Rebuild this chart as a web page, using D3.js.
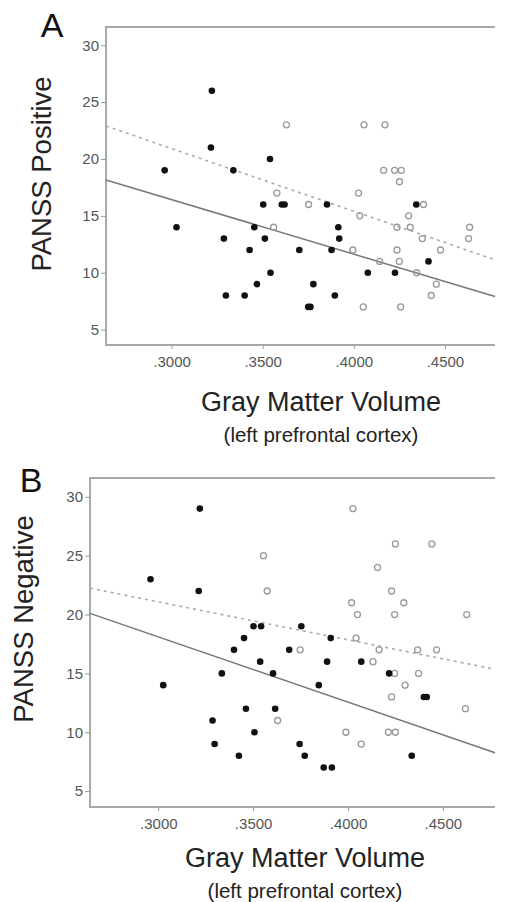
<!DOCTYPE html>
<html>
<head>
<meta charset="utf-8">
<script src="https://cdn.jsdelivr.net/npm/d3@7"></script>
<style>
  body { margin: 0; background: #fff; }
  svg { display: block; font-family: "Liberation Sans", Arial, sans-serif; }
</style>
</head>
<body>
<svg id="chart" width="511" height="902"></svg>
<script>
/**
 * Two scatter panels, gray matter volume vs PANSS scores
 */

// Shared axis ranges and tick labels
var xDomain = [0.264, 0.4775];
var yDomain = [3.65, 31.6];
var xTicks = [0.30, 0.35, 0.40, 0.45];
var yTicks = [5, 10, 15, 20, 25, 30];

// Panel A, filled group [volume, score]
var posFilled = [
  [0.3221, 26], [0.3216, 21], [0.3540, 20], [0.2962, 19], [0.3339, 19],
  [0.3503, 16], [0.3605, 16], [0.3620, 16], [0.3853, 16], [0.4343, 16],
  [0.3027, 14], [0.3454, 14], [0.3915, 14], [0.3287, 13], [0.3512, 13],
  [0.3920, 13], [0.3428, 12], [0.3701, 12], [0.3878, 12], [0.4410, 11],
  [0.3543, 10], [0.4077, 10], [0.4226, 10], [0.3468, 9], [0.3778, 9],
  [0.3298, 8], [0.3401, 8], [0.3896, 8], [0.3750, 7], [0.3762, 7]
];

// Panel A, open group
var posOpen = [
  [0.3630, 23], [0.4056, 23], [0.4171, 23], [0.4164, 19], [0.4224, 19],
  [0.4261, 19], [0.4251, 18], [0.3578, 17], [0.4026, 17], [0.3752, 16],
  [0.4383, 16], [0.4033, 15], [0.4301, 15], [0.3560, 14], [0.4237, 14],
  [0.4310, 14], [0.4636, 14], [0.4376, 13], [0.4630, 13], [0.3995, 12],
  [0.4237, 12], [0.4476, 12], [0.4142, 11], [0.4250, 11], [0.4345, 10],
  [0.4453, 9], [0.4425, 8], [0.4052, 7], [0.4257, 7]
];

// Panel A fit lines (ends at the plot edges)
var posFilledFit = [[0.264, 18.15], [0.4775, 7.92]];
var posOpenFit = [[0.264, 22.9], [0.4775, 11.14]];

// Panel B, filled group
var negFilled = [
  [0.3219, 29], [0.2959, 23], [0.3213, 22], [0.3502, 19], [0.3542, 19],
  [0.3754, 19], [0.3452, 18], [0.3909, 18], [0.3399, 17], [0.3690, 17],
  [0.3537, 16], [0.3890, 16], [0.4070, 16], [0.3335, 15], [0.3605, 15],
  [0.4217, 15], [0.3026, 14], [0.3846, 14], [0.4400, 13], [0.4415, 13],
  [0.3462, 12], [0.3616, 12], [0.3286, 11], [0.3507, 10], [0.3297, 9],
  [0.3745, 9], [0.3425, 8], [0.3772, 8], [0.4336, 8], [0.3872, 7],
  [0.3915, 7]
];

// Panel B, open group
var negOpen = [
  [0.4026, 29], [0.4250, 26], [0.4442, 26], [0.3555, 25], [0.4156, 24],
  [0.3574, 22], [0.4230, 22], [0.4019, 21], [0.4294, 21], [0.4050, 20],
  [0.4246, 20], [0.4626, 20], [0.4043, 18], [0.3748, 17], [0.4164, 17],
  [0.4367, 17], [0.4467, 17], [0.4132, 16], [0.4246, 15], [0.4372, 15],
  [0.4301, 14], [0.4230, 13], [0.4619, 12], [0.3629, 11], [0.3989, 10],
  [0.4213, 10], [0.4250, 10], [0.4070, 9]
];

// Panel B fit lines
var negFilledFit = [[0.264, 20.1], [0.4775, 8.26]];
var negOpenFit = [[0.264, 22.24], [0.4775, 15.35]];

var svg = d3.select('#chart');

// Draw one panel
function drawPanel(opts) {
  var x = d3.scaleLinear().domain(xDomain).range([opts.left, opts.right]);
  var y = d3.scaleLinear().domain(yDomain).range([opts.bottom, opts.top]);
  var g = svg.append('g');

  // Frame: top, left and bottom
  g.append('path')
    .attr('d', 'M' + opts.right + ',' + opts.top + 'H' + opts.left +
      'V' + opts.bottom + 'H' + opts.right)
    .attr('fill', 'none')
    .attr('stroke', '#a8a8a8')
    .attr('stroke-width', 2);

  // Axes
  var xAxis = g.append('g')
    .attr('transform', 'translate(0,' + opts.bottom + ')')
    .call(d3.axisBottom(x).tickValues(xTicks).tickSize(4).tickPadding(7)
      .tickFormat(function(d) { return d3.format('.4f')(d).replace(/^0/, ''); }));
  var yAxis = g.append('g')
    .attr('transform', 'translate(' + opts.left + ',0)')
    .call(d3.axisLeft(y).tickValues(yTicks).tickSize(5).tickPadding(2));

  [xAxis, yAxis].forEach(function(a) {
    a.select('.domain').remove();
    a.selectAll('line').attr('stroke', '#999');
    a.selectAll('text')
      .attr('fill', '#555')
      .style('font-size', '15px')
      .style('font-family', '"Liberation Sans", Arial, sans-serif');
  });

  // Fit lines
  var line = d3.line()
    .x(function(d) { return x(d[0]); })
    .y(function(d) { return y(d[1]); });

  g.append('path')
    .datum(opts.openFit)
    .attr('d', line)
    .attr('fill', 'none')
    .attr('stroke', '#aaa')
    .attr('stroke-width', 1.6)
    .attr('stroke-dasharray', '3,4');

  g.append('path')
    .datum(opts.filledFit)
    .attr('d', line)
    .attr('fill', 'none')
    .attr('stroke', '#777')
    .attr('stroke-width', 1.5);

  // Points
  g.selectAll('.open')
    .data(opts.open)
    .enter().append('circle')
    .attr('class', 'open')
    .attr('cx', function(d) { return x(d[0]); })
    .attr('cy', function(d) { return y(d[1]); })
    .attr('r', 3)
    .attr('fill', 'none')
    .attr('stroke', '#999')
    .attr('stroke-width', 1.3);

  g.selectAll('.filled')
    .data(opts.filled)
    .enter().append('circle')
    .attr('class', 'filled')
    .attr('cx', function(d) { return x(d[0]); })
    .attr('cy', function(d) { return y(d[1]); })
    .attr('r', 3.3)
    .attr('fill', '#111');

  // Panel letter
  g.append('text')
    .attr('x', opts.letterX)
    .attr('y', opts.letterY)
    .attr('text-anchor', 'middle')
    .attr('fill', '#111')
    .style('font-size', '34px')
    .text(opts.letter);

  // Y title
  g.append('text')
    .attr('transform', 'translate(' + opts.yTitleX + ',' + opts.yTitleY + ') rotate(-90)')
    .attr('text-anchor', 'middle')
    .attr('fill', '#222')
    .style('font-size', '27.5px')
    .text(opts.yTitle);

  // X titles
  g.append('text')
    .attr('x', opts.xTitleX)
    .attr('y', opts.xTitleY)
    .attr('text-anchor', 'middle')
    .attr('fill', '#222')
    .style('font-size', '27px')
    .text('Gray Matter Volume');

  g.append('text')
    .attr('x', opts.xTitleX)
    .attr('y', opts.xTitleY + 31)
    .attr('text-anchor', 'middle')
    .attr('fill', '#222')
    .style('font-size', '20.5px')
    .text('(left prefrontal cortex)');
}

// Panel A
drawPanel({
  left: 106, right: 495, top: 27, bottom: 345,
  filled: posFilled, open: posOpen,
  filledFit: posFilledFit, openFit: posOpenFit,
  letter: 'A', letterX: 52, letterY: 37,
  yTitle: 'PANSS Positive', yTitleX: 51, yTitleY: 174,
  xTitleX: 321, xTitleY: 411
});

// Panel B
drawPanel({
  left: 90, right: 495, top: 478, bottom: 807,
  filled: negFilled, open: negOpen,
  filledFit: negFilledFit, openFit: negOpenFit,
  letter: 'B', letterX: 31, letterY: 492,
  yTitle: 'PANSS Negative', yTitleX: 33, yTitleY: 619,
  xTitleX: 305, xTitleY: 867
});
</script>
</body>
</html>
